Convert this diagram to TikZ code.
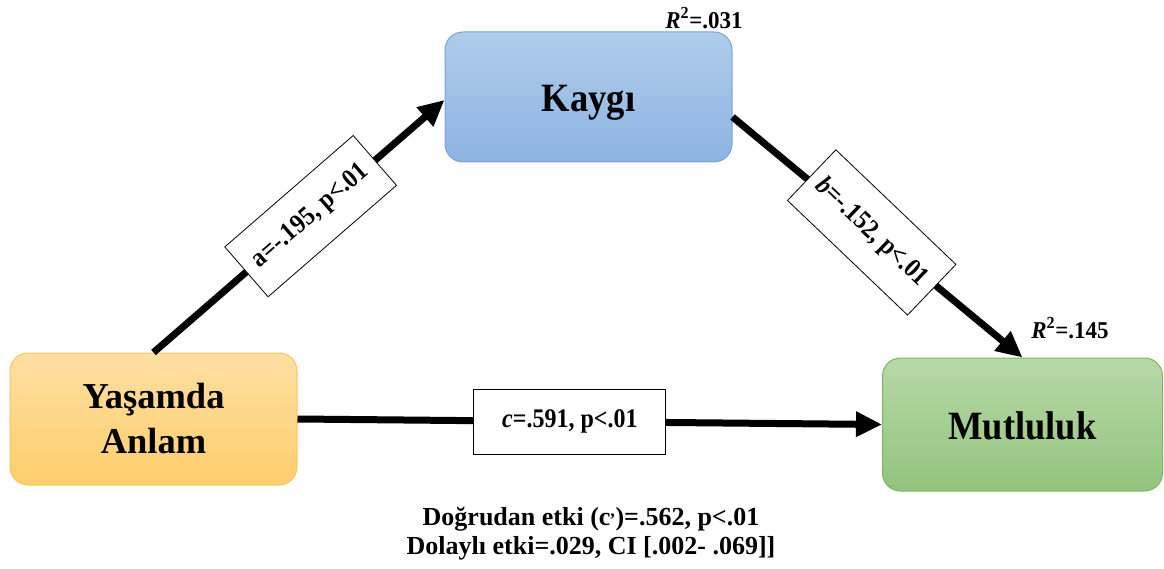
\documentclass[tikz,border=0pt]{standalone}
\usepackage{fontspec}
\setmainfont{Liberation Serif}
\usetikzlibrary{arrows.meta}
\definecolor{kaytop}{HTML}{B0CCEC}
\definecolor{kaybot}{HTML}{8DB3E2}
\definecolor{kaydraw}{HTML}{7AA3D6}
\definecolor{yastop}{HTML}{FFDFA3}
\definecolor{yasbot}{HTML}{FFCE6C}
\definecolor{yasdraw}{HTML}{F7C760}
\definecolor{muttop}{HTML}{B7D8A8}
\definecolor{mutbot}{HTML}{93C47D}
\definecolor{mutdraw}{HTML}{7DB663}
\newcommand{\vs}[2]{\scalebox{1}[#1]{#2}}
\newcommand{\lowered}[2]{\raisebox{-#1}[0pt][0pt]{#2}}
\tikzset{
  mainbox/.style={rounded corners=18pt, line width=1pt, align=center,
    font=\fontsize{36.5}{45}\selectfont\bfseries, inner sep=0pt},
  conn/.style={line width=7pt, -{Triangle[length=26pt,width=24pt]}},
  lab/.style={draw=black, fill=white, line width=0.8pt, inner sep=0pt,
    font=\fontsize{24}{26}\selectfont\bfseries},
  rtext/.style={font=\fontsize{23}{25}\selectfont\bfseries, inner sep=0pt},
  note/.style={font=\fontsize{26}{29}\selectfont\bfseries, align=center, inner sep=0pt}
}
\begin{document}
\begin{tikzpicture}[x=1pt,y=-1pt]
\useasboundingbox (0,0) rectangle (1164,569);
\node[mainbox, draw=kaydraw, top color=kaytop, bottom color=kaybot,
  minimum width=287pt, minimum height=130pt] (ky) at (588.5,97) {\lowered{15pt}{\vs{1.1}{Kaygı}}};
\node[mainbox, draw=yasdraw, top color=yastop, bottom color=yasbot,
  minimum width=287pt, minimum height=132pt] (ya) at (153.5,419) {Yaşamda\\Anlam};
\node[mainbox, draw=mutdraw, top color=muttop, bottom color=mutbot,
  minimum width=280pt, minimum height=133pt] (mu) at (1022.5,424.5) {\lowered{14.5pt}{\vs{1.1}{Mutluluk}}};
\coordinate (kyout) at ([yshift=-20pt]ky.east);
\coordinate (kyin) at ([yshift=-3pt]ky.west);
\draw[conn] (ya.north) -- (kyin)
  node[lab, pos=0.54, sloped, minimum width=170pt, minimum height=66pt] (la) {\vs{1.12}{a=-.195, p<.01}};
\draw[conn] (kyout) -- (mu.north)
  node[lab, pos=0.48, sloped, rotate=-4, minimum width=166pt, minimum height=70pt] (lb) {\vs{1.12}{\textit{b}=-.152, p<.01}};
\draw[conn] (ya.east) -- (mu.west)
  node[lab, pos=0.466, minimum width=192pt, minimum height=65pt] (lc) {\vs{1.12}{\textit{c}=.591, p<.01}};
\node[rtext] (r1) at (704,18) {\vs{1.05}{\textit{R}\textsuperscript{2}=.031}};
\node[rtext] (r2) at (1070,328) {\vs{1.05}{\textit{R}\textsuperscript{2}=.145}};
\node[note] (nt) at (591,534) {Doğrudan etki (c\textsuperscript{,})=.562, p<.01\\Dolaylı etki=.029, CI [.002- .069]]};
\end{tikzpicture}
\end{document}
